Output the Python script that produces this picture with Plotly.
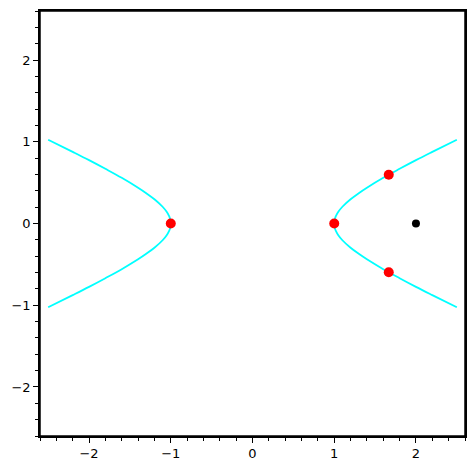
import plotly.graph_objects as go

# upper-right branch points (x >= 1)
branch_x = [1.0, 1.003, 1.01, 1.02, 1.05, 1.1, 1.2, 1.3, 1.4, 1.6, 1.8, 2.0, 2.2, 2.5]
branch_y = [0.0, 0.035, 0.063, 0.090, 0.143, 0.205, 0.297, 0.371, 0.438, 0.559, 0.669, 0.775, 0.876, 1.025]

red_x = [-1.0, 1.0, 1.667, 1.667]
red_y = [0.0, 0.0, 0.596, -0.596]
black_x = [2.0]
black_y = [0.0]

xticks = [-2, -1, 0, 1, 2]
xlabels = ["\u22122", "\u22121", "0", "1", "2"]
yticks = [-2, -1, 0, 1, 2]
ylabels = ["\u22122", "\u22121", "0", "1", "2"]

# right branch: lower part (reversed) then upper part
rx = list(reversed(branch_x)) + branch_x[1:]
ry = [-v for v in reversed(branch_y)] + branch_y[1:]
lx = [-v for v in rx]
ly = ry

fig = go.Figure()
for xs, ys in [(lx, ly), (rx, ry)]:
    fig.add_trace(go.Scatter(x=xs, y=ys, mode="lines", line=dict(color="#00ffff", width=1.8),
                             line_shape="spline", showlegend=False, hoverinfo="skip"))
fig.add_trace(go.Scatter(x=red_x, y=red_y, mode="markers",
                         marker=dict(color="#ff0000", size=10), showlegend=False))
fig.add_trace(go.Scatter(x=black_x, y=black_y, mode="markers",
                         marker=dict(color="#000000", size=8), showlegend=False))

axis_common = dict(showgrid=False, zeroline=False, showline=True, linecolor="black", linewidth=1.5,
                   mirror=True, ticks="outside", ticklen=5, tickwidth=1, tickcolor="black",
                   tickfont=dict(family="DejaVu Sans", size=13, color="black"),
                   minor=dict(dtick=0.2, ticks="outside", ticklen=3, tickcolor="black", showgrid=False))
fig.update_xaxes(range=[-2.6, 2.6], tickvals=xticks, ticktext=xlabels, **axis_common)
fig.update_yaxes(range=[-2.6, 2.6], tickvals=yticks, ticktext=ylabels, **axis_common)
fig.add_shape(type="rect", xref="paper", yref="paper", x0=0, y0=0, x1=1, y1=1,
              line=dict(color="black", width=1.5), layer="above")
fig.update_layout(width=476, height=470, margin=dict(l=40, r=9, t=10, b=34),
                  plot_bgcolor="white", paper_bgcolor="white")
fig.write_html("out.html", config={"displayModeBar": False},
               post_script="document.body.style.margin='0';document.body.style.padding='0';")
